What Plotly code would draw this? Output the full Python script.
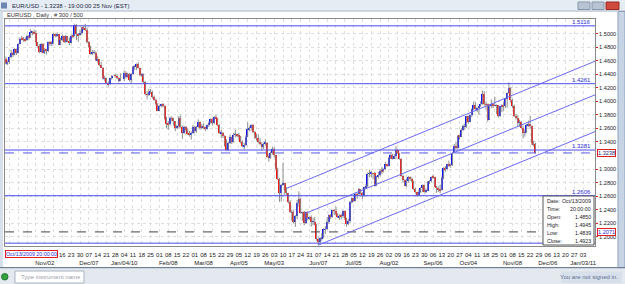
import pandas as pd
import plotly.graph_objects as go

# ---------------- data (prices stored as pips above 1.0000) ----------------
opens = [
 4630,4560,4575,4650,4715,4690,4770,4720,4850,4923,4920,4910,4905,4965,4950,5020,5025,5010,4870,4820,4725,4850,
 4720,4765,4750,4870,4860,4860,4990,4960,4990,4840,4910,4960,4870,4960,4885,4865,4970,4965,5130,4995,4975,
 5005,5085,5070,5060,4870,4810,4705,4715,4720,4610,4620,4540,4500,4340,4345,4270,4250,4340,4380,4375,4345,4300,
 4330,4420,4365,4410,4310,4410,4510,4510,4550,4495,4385,4395,4285,4105,4100,4145,4145,4065,4025,3965,
 3865,3930,3960,3935,3740,3670,3660,3750,3740,3705,3600,3630,3760,3620,3530,3620,3580,3520,3510,3540,
 3625,3560,3620,3700,3610,3630,3625,3590,3650,3680,3745,3680,3770,3750,3650,3530,3540,3490,3340,3285,3380,3480,3400,
 3510,3510,3490,3485,3395,3340,3350,3480,3590,3610,3650,3545,3500,3465,3400,3375,3325,3375,3385,3185,3170,3235,
 3300,3205,3000,2850,2640,2760,2790,2680,2640,2520,2360,2365,2215,2300,2505,2560,2355,2360,2200,2365,2270,
 2285,2225,2225,2175,1960,1925,1975,1990,2110,2110,2215,2315,2285,2390,2385,2330,2285,2310,2305,2380,2270,2190,
 2230,2515,2565,2530,2630,2625,2700,2640,2610,2730,2745,2930,2940,2940,2935,2755,2890,2905,2975,2965,3000,3080,
 3050,3165,3215,3150,3190,3280,3235,3150,2895,2835,2755,2830,2885,2850,2825,2705,2660,2620,2660,2715,2760,2665,
 2680,2805,2820,2885,2880,2740,2720,2700,2690,2875,3020,3000,3070,3050,3055,3240,3340,3310,3490,3480,3575,3630,
 3630,3780,3700,3795,3885,3950,3880,3905,3925,3960,4115,3960,3955,3730,3925,3960,3945,3935,3940,3790,3925,
 3945,3925,4035,4130,4200,4025,3925,3780,3755,3685,3690,3610,3540,3545,3645,3670,3630,3380,3370,
]
highs = [
 4660,4610,4665,4760,4735,4785,4780,4860,4945,4965,4950,4950,4985,4980,5065,5040,5060,5050,4880,4845,4860,4860,
 4790,4775,4885,4890,4890,5010,5000,5020,4995,4940,4990,4970,4980,4965,4945,4990,4990,5145,5140,5010,5060,
 5100,5110,5145,5090,4890,4825,4760,4760,4740,4665,4625,4585,4510,4380,4350,4295,4350,4390,4405,4405,4355,4415,
 4455,4445,4425,4420,4420,4530,4535,4560,4580,4500,4420,4410,4300,4150,4185,4185,4160,4085,4040,3975,
 3945,3965,3975,3940,3770,3710,3775,3780,3760,3710,3650,3785,3795,3645,3640,3635,3600,3565,3560,3650,
 3640,3640,3735,3705,3665,3675,3630,3660,3705,3750,3750,3780,3800,3755,3660,3580,3550,3500,3440,3400,3500,3480,3535,
 3585,3520,3535,3490,3425,3390,3500,3690,3630,3660,3670,3560,3520,3515,3455,3395,3390,3440,3400,3230,3260,3330,
 3320,3210,3020,2870,2780,3095,2800,2735,2650,2540,2400,2390,2320,2545,2670,2575,2370,2380,2375,2375,2300,
 2315,2280,2290,2190,1985,1990,2055,2125,2155,2290,2330,2335,2400,2410,2445,2350,2330,2340,2390,2390,2280,2265,
 2530,2580,2580,2650,2650,2720,2705,2660,2740,2780,2950,2990,2970,2945,2960,2900,2960,3000,3030,3010,3105,3080,
 3180,3230,3225,3220,3335,3300,3240,3160,2915,2850,2860,2900,2890,2880,2830,2725,2665,2695,2730,2770,2770,2715,
 2820,2835,2890,2920,2885,2750,2745,2770,2890,3030,3045,3080,3125,3080,3250,3370,3400,3500,3505,3605,3660,3675,
 3785,3785,3805,3895,3995,3985,3920,3935,4000,4160,4150,3990,3970,3950,4030,3975,4070,3955,3945,3935,3955,
 3995,4050,4130,4281,4210,4035,3950,3810,3795,3730,3710,3640,3585,3665,3715,3785,3645,3420,3390,
]
lows = [
 4545,4535,4555,4635,4655,4680,4685,4705,4839,4900,4880,4880,4890,4910,4935,4975,4995,4855,4800,4710,4720,4705,
 4700,4690,4730,4820,4815,4855,4945,4950,4830,4835,4890,4860,4865,4870,4830,4860,4930,4960,4905,4880,4965,
 4985,5050,5040,4855,4790,4690,4685,4695,4595,4580,4520,4490,4320,4300,4260,4220,4240,4320,4350,4325,4280,4300,
 4300,4340,4350,4295,4260,4400,4460,4465,4485,4370,4360,4270,4090,4030,4080,4110,4040,4010,3940,3855,
 3860,3910,3910,3730,3600,3580,3640,3705,3640,3560,3590,3600,3610,3445,3520,3540,3500,3480,3435,3520,
 3530,3540,3610,3580,3590,3590,3560,3580,3620,3670,3640,3660,3740,3630,3520,3460,3460,3330,3270,3265,3370,3370,3390,
 3470,3470,3440,3380,3320,3290,3340,3470,3560,3570,3530,3440,3420,3380,3350,3280,3300,3350,3170,3110,3150,3215,
 3170,2985,2840,2515,2520,2750,2620,2620,2490,2350,2235,2200,2145,2260,2445,2340,2235,2170,2190,2240,2250,
 2150,2170,2170,1940,1876,1900,1940,1975,2040,2105,2190,2260,2280,2320,2310,2275,2250,2255,2280,2250,2150,2170,
 2200,2490,2510,2520,2560,2610,2620,2560,2590,2700,2730,2880,2880,2850,2740,2750,2860,2890,2925,2950,2985,3030,
 3040,3150,3140,3150,3150,3225,3140,2885,2805,2750,2735,2800,2820,2800,2690,2640,2590,2610,2645,2660,2650,2640,
 2675,2780,2805,2855,2730,2650,2660,2640,2685,2850,2960,2980,3035,3020,3045,3230,3295,3300,3440,3470,3560,3580,
 3610,3675,3690,3765,3870,3860,3840,3800,3915,3950,3935,3875,3700,3730,3900,3900,3925,3810,3760,3770,3840,
 3860,3900,3910,4110,3985,3900,3770,3730,3630,3625,3600,3450,3480,3530,3620,3600,3355,3335,3225,
]
closes = [
 4560,4575,4650,4715,4690,4770,4715,4850,4923,4920,4910,4905,4965,4950,5020,5025,5010,4870,4820,4725,4850,4720,
 4765,4750,4870,4860,4860,4990,4960,4990,4840,4910,4960,4870,4960,4885,4865,4970,4965,5130,4995,4975,5005,
 5085,5070,5060,4870,4810,4705,4715,4720,4610,4620,4540,4500,4340,4345,4270,4250,4340,4380,4375,4345,4300,4330,
 4420,4365,4410,4310,4410,4510,4510,4550,4495,4385,4395,4285,4105,4100,4145,4145,4065,4025,3965,3865,
 3930,3960,3935,3740,3670,3660,3750,3740,3705,3600,3630,3760,3620,3530,3620,3580,3520,3510,3540,3625,
 3560,3620,3700,3610,3630,3625,3590,3650,3680,3745,3680,3770,3750,3650,3530,3540,3490,3340,3285,3380,3480,3400,3510,
 3510,3490,3485,3395,3340,3350,3480,3590,3610,3650,3545,3500,3465,3400,3375,3325,3375,3385,3185,3170,3235,3300,
 3205,3000,2850,2640,2760,2790,2680,2640,2520,2360,2365,2215,2300,2505,2560,2355,2360,2200,2365,2270,2285,
 2225,2225,2175,1960,1925,1975,1990,2110,2110,2215,2315,2285,2390,2385,2330,2285,2310,2305,2380,2270,2190,2230,
 2515,2565,2530,2630,2625,2700,2640,2610,2730,2745,2930,2940,2940,2935,2755,2890,2905,2975,2965,3000,3080,3050,
 3165,3215,3150,3190,3280,3235,3150,2895,2835,2755,2830,2885,2850,2825,2705,2660,2620,2660,2715,2760,2665,2680,
 2805,2820,2885,2880,2740,2720,2700,2690,2875,3020,3000,3070,3050,3055,3240,3340,3310,3490,3480,3575,3630,3630,
 3780,3700,3795,3885,3950,3880,3905,3925,3960,4115,3960,3955,3730,3925,3960,3945,3935,3940,3790,3925,3945,
 3925,4035,4130,4200,4025,3925,3780,3755,3685,3690,3610,3540,3545,3645,3670,3630,3380,3370,3238,
]
holidays = ["2009-12-25", "2010-01-01"]
first_day, last_day = "2009-10-01", "2010-11-25"

# 1.3200 is hidden behind the current-price box in the reference
price_ticks = [1.20, 1.22, 1.24, 1.26, 1.28, 1.30, 1.34, 1.36, 1.38,
               1.40, 1.42, 1.44, 1.46, 1.48, 1.50]
levels = [1.5116, 1.4261, 1.3281, 1.2606, 1.1905]
level_labels = ["1.5116", "1.4261", "1.3281", "1.2606", ""]
current_price = 1.3238
cross_price = 1.2071
cross_date = "2009-10-13"
hidden_before = "2009-11-16"   # day numbers covered by the crosshair date box
# channel trend lines: (start date, start price, end date, end price)
trendlines = [
    ("2010-05-12", 1.2714, "2011-01-11 18:00", 1.4593),
    ("2010-05-27", 1.2348, "2011-01-11 18:00", 1.4096),
    ("2010-06-07", 1.1876, "2011-01-11 18:00", 1.3553),
]
month_labels = {
    "2009-11-02": "Nov/02", "2009-12-07": "Dec/07", "2010-01-04": "Jan/04/10",
    "2010-02-08": "Feb/08", "2010-03-08": "Mar/08", "2010-04-05": "Apr/05",
    "2010-05-03": "May/03", "2010-06-07": "Jun/07", "2010-07-05": "Jul/05",
    "2010-08-02": "Aug/02", "2010-09-06": "Sep/06", "2010-10-04": "Oct/04",
    "2010-11-08": "Nov/08", "2010-12-06": "Dec/06", "2011-01-03": "Jan/03/11",
}
title_text = "EUR/USD - 1.3238 - 19:00:00 25 Nov (EST)"
sub_text = "EURUSD , Daily , # 300 / 500"

# ---------------- preparation ----------------
dates = [d for d in pd.bdate_range(first_day, last_day) if d.strftime("%Y-%m-%d") not in holidays]
assert len(dates) == len(opens) == len(highs) == len(lows) == len(closes)
P = lambda v: 1 + v / 10000.0
O = [P(v) for v in opens]; Hh = [P(v) for v in highs]
Lw = [P(v) for v in lows]; C = [P(v) for v in closes]
ds = [d.strftime("%Y-%m-%d") for d in dates]

FONT = "Liberation Sans Narrow, Arial Narrow, Liberation Sans, Arial, sans-serif"
W, Hgt = 625, 284
PL, PR, PT, PB = 5, 595, 19, 246
GRID = "#dedede"


def fx(px):
    return (px - PL) / (PR - PL)


def fy(py):
    return (PB - py) / (PB - PT)


fig = go.Figure()

# wicks
wx, wy = [], []
for d, lo, hi in zip(ds, Lw, Hh):
    wx += [d, d, None]
    wy += [lo, hi, None]
fig.add_trace(go.Scatter(x=wx, y=wy, mode="lines", line=dict(color="#8c8c8c", width=1),
                         hoverinfo="skip"))
# bodies
base = [min(o, c) for o, c in zip(O, C)]
hgt = [max(abs(c - o), 0.0003) for o, c in zip(O, C)]
cols = ["#1010ff" if c >= o else "#ff1010" for o, c in zip(O, C)]
fig.add_trace(go.Bar(x=ds, y=hgt, base=base, marker=dict(color=cols, line=dict(width=0)),
                     width=0.85 * 86400000))

# ticks
mondays = pd.date_range("2009-10-05", "2011-01-03", freq="W-MON")
tickvals, ticktext = [], []
for m in mondays:
    k = m.strftime("%Y-%m-%d")
    tickvals.append(k)
    t = m.strftime("%d") if k >= hidden_before else "&nbsp;"
    if k in month_labels:
        t = t + "<br>" + month_labels[k]
    elif k < hidden_before:
        t = ""
    ticktext.append(t)

shapes = []
anns = []

# horizontal levels
for lv, lb in zip(levels, level_labels):
    shapes.append(dict(type="line", xref="paper", yref="y", x0=0, x1=1, y0=lv, y1=lv,
                       line=dict(color="#4b4bf0", width=1)))
    if lb:
        anns.append(dict(xref="paper", yref="y", x=fx(593), y=lv, xanchor="right", yanchor="bottom",
                         text=lb, showarrow=False, font=dict(family=FONT, size=6, color="#2a2ad8"),
                         yshift=-1))
# current price dashed, crosshair dashed
shapes.append(dict(type="line", xref="paper", yref="y", x0=0, x1=1, y0=current_price, y1=current_price,
                   line=dict(color="#5a5af0", width=1, dash="dash")))
shapes.append(dict(type="line", xref="paper", yref="y", x0=0, x1=1, y0=cross_price, y1=cross_price,
                   line=dict(color="#444444", width=1, dash="dash")))
# channel lines
for x0, y0, x1, y1 in trendlines:
    shapes.append(dict(type="line", xref="x", yref="y", x0=x0, y0=y0, x1=x1, y1=y1,
                       line=dict(color="#6a6af5", width=1)))

# info box
shapes.append(dict(type="rect", xref="paper", yref="paper", x0=fx(543), x1=fx(594), y0=fy(245), y1=fy(196),
                   fillcolor="white", line=dict(color="#555555", width=1)))
ci = ds.index(cross_date)
info_labels = ["Date:", "Time:", "Open:", "High:", "Low:", "Close:"]
info_values = [dates[ci].strftime("%b/%d/%Y"), "20:00:00", "%.4f" % O[ci], "%.4f" % Hh[ci],
               "%.4f" % Lw[ci], "%.4f" % C[ci]]
for i, (lb, vl) in enumerate(zip(info_labels, info_values)):
    yy = fy(200.6 + 8.1 * i)
    anns.append(dict(xref="paper", yref="paper", x=fx(544.5), y=yy, xanchor="left", yanchor="middle",
                     text=lb, showarrow=False, font=dict(family=FONT, size=5.3, color="#222")))
    anns.append(dict(xref="paper", yref="paper", x=fx(592.5), y=yy, xanchor="right", yanchor="middle",
                     text=vl, showarrow=False, font=dict(family=FONT, size=5.3, color="#222")))

# price boxes on axis
anns.append(dict(xref="paper", yref="y", x=fx(606.5), y=current_price, xanchor="center", yanchor="middle",
                 text="%.4f" % C[-1], showarrow=False, bgcolor="white", bordercolor="#e02020",
                 borderwidth=1, borderpad=0, font=dict(family=FONT, size=5.6, color="#2a2a7a")))
anns.append(dict(xref="paper", yref="y", x=fx(606.5), y=cross_price, xanchor="center", yanchor="middle",
                 text="%.4f" % cross_price, showarrow=False, bgcolor="white", bordercolor="#e02020",
                 borderwidth=1, borderpad=0, font=dict(family=FONT, size=5.6, color="#2a2ad8")))
# crosshair date box
anns.append(dict(xref="paper", yref="paper", x=fx(5), y=fy(254.2), xanchor="left", yanchor="middle",
                 text=dates[ci].strftime("%b/%d/%Y") + " 20:00:00", showarrow=False, bgcolor="white",
                 bordercolor="#e02020", borderwidth=1, borderpad=0,
                 font=dict(family=FONT, size=5.3, color="#2a2ad8")))


# window chrome
def rect(x0, y0, x1, y1, fill, line=None, lw=0):
    shapes.append(dict(type="rect", xref="paper", yref="paper", x0=fx(x0), x1=fx(x1), y0=fy(y1), y1=fy(y0),
                       fillcolor=fill, line=dict(color=line or fill, width=lw), layer="above"))


rect(0, 0, 625, 10.5, "#e6ecf3")
rect(0, 10.5, 625, 11.5, "#a3b0c2")
rect(0, 11.5, 3, 268, "#d6dfea")
rect(618, 11.5, 625, 268, "#c6d4e6", "#8d9fb8", 1)
rect(0, 267, 625, 268.5, "#6f7f96")
rect(0, 268.5, 625, 284, "#e4e9ef")
rect(578, 2, 590, 9.5, "#b9c4d3", "#8797ad", 1)
rect(592, 2, 604, 9.5, "#b9c4d3", "#8797ad", 1)
rect(606, 2, 619, 9.5, "#cf4a3c", "#9a2c22", 1)
rect(1, 2.5, 7, 8.5, "#6a88b0")
shapes.append(dict(type="circle", xref="paper", yref="paper", x0=fx(1.5), x1=fx(8), y0=fy(280), y1=fy(273.5),
                   fillcolor="#35a042", line=dict(color="#1f7a2b", width=1)))
rect(15, 271, 84, 283, "#ffffff", "#a9b4c2", 1)
rect(561, 271.5, 622, 283, "#d7dfea")

anns.append(dict(xref="paper", yref="paper", x=fx(10), y=fy(5.5), xanchor="left", yanchor="middle",
                 text=title_text, showarrow=False, font=dict(family=FONT, size=6, color="#1c2a44")))
anns.append(dict(xref="paper", yref="paper", x=fx(5), y=fy(15), xanchor="left", yanchor="middle",
                 text=sub_text, showarrow=False, font=dict(family=FONT, size=5.8, color="#333")))
anns.append(dict(xref="paper", yref="paper", x=fx(19), y=fy(277.2), xanchor="left", yanchor="middle",
                 text="Type instrument name", showarrow=False, font=dict(family=FONT, size=6, color="#9aa2ad")))
anns.append(dict(xref="paper", yref="paper", x=fx(620), y=fy(277.2), xanchor="right", yanchor="middle",
                 text="You are not signed in.", showarrow=False, font=dict(family=FONT, size=6, color="#5b6f92")))

fig.update_layout(
    width=W, height=Hgt,
    margin=dict(l=PL, r=W - PR, t=PT, b=Hgt - PB, pad=0),
    paper_bgcolor="#ffffff", plot_bgcolor="#ffffff",
    showlegend=False, bargap=0,
    font=dict(family=FONT, size=6, color="#222"),
    shapes=shapes, annotations=anns,
    xaxis=dict(type="date", range=["2009-09-30 12:00", "2011-01-11 18:00"],
               rangebreaks=[dict(bounds=["sat", "mon"])],
               tickmode="array", tickvals=tickvals, ticktext=ticktext, tickangle=0,
               tickfont=dict(family=FONT, size=6, color="#222"), ticks="", ticklabelstandoff=3,
               showgrid=True, gridcolor=GRID, griddash="dot", gridwidth=1,
               showline=True, linecolor="#8a8a8a", mirror=True, zeroline=False, fixedrange=True),
    yaxis=dict(side="right", range=[1.1863, 1.5217], tickmode="array", tickvals=price_ticks,
               tickformat=".4f", ticks="outside", ticklen=2, tickcolor="#e02020",
               tickfont=dict(family=FONT, size=5.6, color="#222"),
               showgrid=True, gridcolor=GRID, griddash="dot", gridwidth=1,
               showline=True, linecolor="#8a8a8a", mirror=True, zeroline=False, fixedrange=True),
)

fig.write_html("out.html")
